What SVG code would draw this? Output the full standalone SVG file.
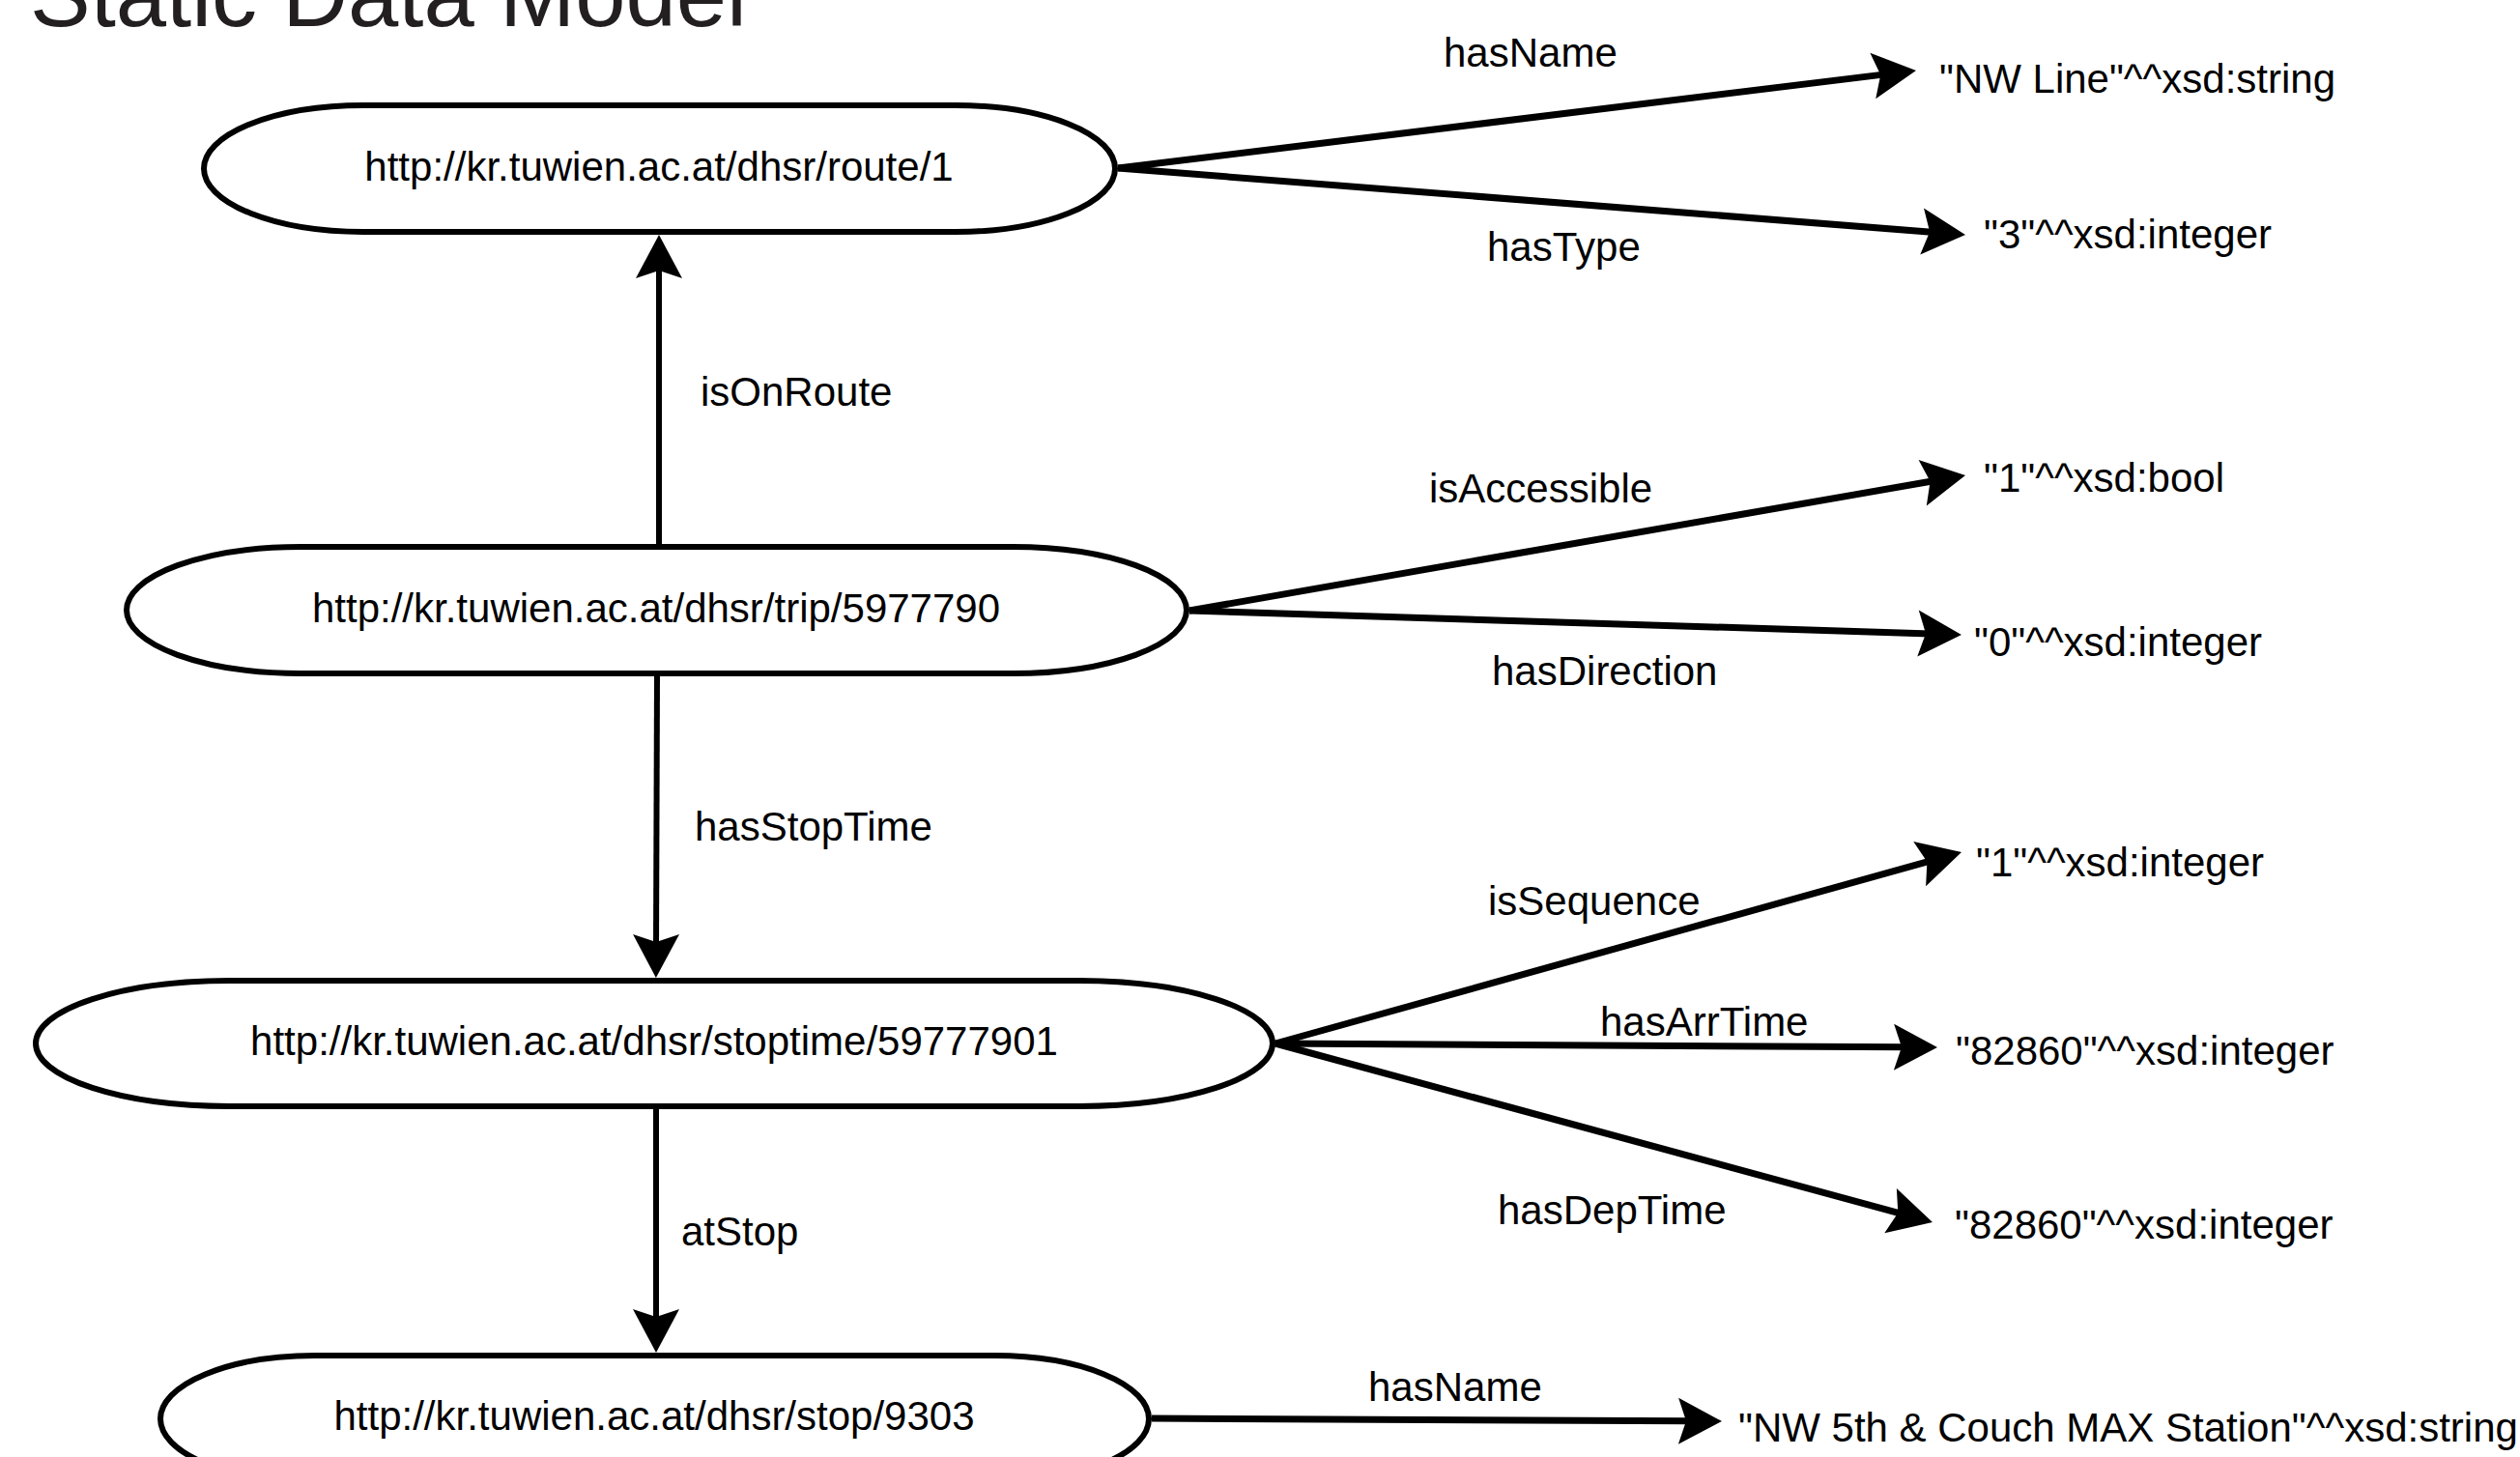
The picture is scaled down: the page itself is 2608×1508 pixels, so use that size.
<svg xmlns="http://www.w3.org/2000/svg" width="2608" height="1508" viewBox="0 0 2608 1508">
  <style>
    .bg { fill: #ffffff; }
    .node { fill: #ffffff; stroke: #000000; stroke-width: 6; }
    .ntext { font-family: "Liberation Sans", Arial, sans-serif; font-size: 42px; fill: #000000; text-anchor: middle; }
    .label { font-family: "Liberation Sans", Arial, sans-serif; font-size: 42px; fill: #000000; }
    .title { font-family: "Liberation Sans", Arial, sans-serif; font-size: 94px; fill: #231f20; }
    .edge { fill: none; stroke: #000000; stroke-width: 7; marker-end: url(#arrow); }
    .vedge { fill: none; stroke: #000000; stroke-width: 6; marker-end: url(#arrow); }
  </style>
  <defs>
    <marker id="arrow" markerUnits="userSpaceOnUse" viewBox="-15 -25 50 50" markerWidth="50" markerHeight="50" refX="0" refY="0" orient="auto" overflow="visible">
      <path d="M32,0 L-13,-24 L-5,0 L-13,24 Z" fill="#000000"/>
    </marker>
  </defs>
  <rect class="bg" x="0" y="0" width="2608" height="1508"/>

  <text class="title" x="31" y="27">Static Data Model</text>

  <g id="node-route">
    <rect class="node" x="211" y="109" width="943" height="131" rx="165" ry="65.5"/>
    <text class="ntext" x="682" y="187">http://kr.tuwien.ac.at/dhsr/route/1</text>
  </g>
  <g id="node-trip">
    <rect class="node" x="131" y="566" width="1097" height="131" rx="180" ry="65.5"/>
    <text class="ntext" x="679" y="644">http://kr.tuwien.ac.at/dhsr/trip/5977790</text>
  </g>
  <g id="node-stoptime">
    <rect class="node" x="37" y="1015" width="1280" height="130" rx="200" ry="65"/>
    <text class="ntext" x="677" y="1092">http://kr.tuwien.ac.at/dhsr/stoptime/59777901</text>
  </g>
  <g id="node-stop">
    <rect class="node" x="166" y="1403" width="1023" height="131" rx="160" ry="65.5"/>
    <text class="ntext" x="677" y="1480">http://kr.tuwien.ac.at/dhsr/stop/9303</text>
  </g>

  <g id="lit-route-name"><text class="label" x="2007" y="96">"NW Line"^^xsd:string</text></g>
  <g id="lit-route-type"><text class="label" x="2053" y="257">"3"^^xsd:integer</text></g>
  <g id="lit-trip-accessible"><text class="label" x="2053" y="509">"1"^^xsd:bool</text></g>
  <g id="lit-trip-direction"><text class="label" x="2043" y="679">"0"^^xsd:integer</text></g>
  <g id="lit-st-sequence"><text class="label" x="2045" y="907">"1"^^xsd:integer</text></g>
  <g id="lit-st-arr"><text class="label" x="2024" y="1102">"82860"^^xsd:integer</text></g>
  <g id="lit-st-dep"><text class="label" x="2023" y="1282">"82860"^^xsd:integer</text></g>
  <g id="lit-stop-name"><text class="label" x="1799" y="1492">"NW 5th &amp; Couch MAX Station"^^xsd:string</text></g>

  <g id="connectors">
    <line class="vedge" x1="682" y1="563" x2="682" y2="275"/>
    <line class="vedge" x1="680" y1="700" x2="679" y2="980"/>
    <line class="vedge" x1="679" y1="1148" x2="679" y2="1368"/>

    <line class="edge" x1="1157" y1="174" x2="1951.2" y2="76.9"/>
    <line class="edge" x1="1157" y1="174" x2="2002.1" y2="240.5"/>
    <line class="edge" x1="1231" y1="632" x2="2002.5" y2="497.5"/>
    <line class="edge" x1="1231" y1="632" x2="1998" y2="656"/>
    <line class="edge" x1="1320" y1="1080" x2="1999.2" y2="890.6"/>
    <line class="edge" x1="1320" y1="1080" x2="1973" y2="1083.8"/>
    <line class="edge" x1="1320" y1="1080" x2="1969.1" y2="1256.6"/>
    <line class="edge" x1="1192" y1="1468" x2="1750" y2="1470.8"/>

    <text class="label" x="725" y="420">isOnRoute</text>
    <text class="label" x="719" y="870">hasStopTime</text>
    <text class="label" x="705" y="1289">atStop</text>
    <text class="label" x="1494" y="69">hasName</text>
    <text class="label" x="1539" y="270">hasType</text>
    <text class="label" x="1479" y="520">isAccessible</text>
    <text class="label" x="1544" y="709">hasDirection</text>
    <text class="label" x="1540" y="947">isSequence</text>
    <text class="label" x="1656" y="1072">hasArrTime</text>
    <text class="label" x="1550" y="1267">hasDepTime</text>
    <text class="label" x="1416" y="1450">hasName</text>
  </g>
</svg>
